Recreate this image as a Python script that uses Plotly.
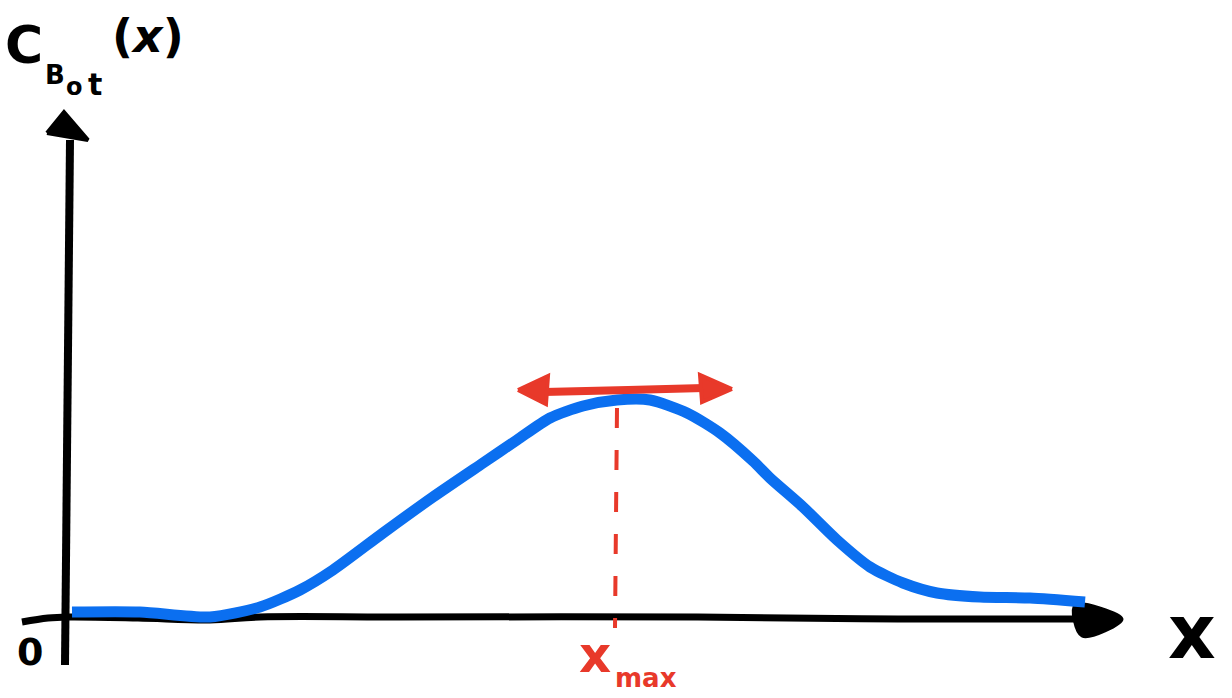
import plotly.graph_objects as go

# ---- data (x position along axis, concentration C_Bot(x)) ----
pos_x = [4, 72, 142, 192, 232, 265, 315, 365, 415, 449, 482, 515, 549, 582,
         619, 652, 685, 702, 735, 769, 802, 835, 869, 912, 962, 1017]
conc_y = [2, 2, -3, 7, 24, 44, 81, 117, 151, 174, 196, 208, 214, 214,
          201, 181, 153, 136, 107, 74, 47, 31, 21, 17, 16, 12]
x_max = 549
peak_level = 222

BLUE = "#0B6FF0"
RED = "#E8392A"
BLACK = "#000000"

fig = go.Figure()

# x axis (hand drawn baseline)
ax_x = [-46, -20, 0, 70, 142, 192, 330, 630, 830, 1007]
ax_y = [-8, -4, -3, -4, -6, -3, -3, -3, -5, -5]
fig.add_trace(go.Scatter(x=ax_x, y=ax_y, mode="lines", line=dict(color=BLACK, width=7, shape="spline"),
                         hoverinfo="skip", showlegend=False))
# x-axis arrowhead
fig.add_trace(go.Scatter(x=[1007, 1054, 1014, 1007], y=[9, -5, -22, 9], mode="lines", fill="toself",
                         fillcolor=BLACK, line=dict(color=BLACK, width=3, shape="spline"),
                         hoverinfo="skip", showlegend=False))
# y axis
fig.add_trace(go.Scatter(x=[-3, -1, 2], y=[-51, 200, 474], mode="lines", line=dict(color=BLACK, width=8),
                         hoverinfo="skip", showlegend=False))
# y-axis arrowhead
fig.add_trace(go.Scatter(x=[-21, -4, 20, -21], y=[481, 502, 474, 481], mode="lines", fill="toself",
                         fillcolor=BLACK, line=dict(color=BLACK, width=4),
                         hoverinfo="skip", showlegend=False))

# blue curve
fig.add_trace(go.Scatter(x=pos_x, y=conc_y, mode="lines",
                         line=dict(color=BLUE, width=11, shape="spline", smoothing=0.7),
                         hoverinfo="skip", showlegend=False))

# red dashed line at x_max
fig.add_trace(go.Scatter(x=[x_max, x_max - 2], y=[206, -14], mode="lines",
                         line=dict(color=RED, width=4, dash="20px,22px"),
                         hoverinfo="skip", showlegend=False))
# red double arrow
fig.add_trace(go.Scatter(x=[476, 560, 636], y=[peak_level, peak_level + 2, peak_level + 4], mode="lines",
                         line=dict(color=RED, width=8, shape="spline"), hoverinfo="skip", showlegend=False))
fig.add_trace(go.Scatter(x=[450, 480, 478, 450], y=[224, 238, 210, 224], mode="lines", fill="toself",
                         fillcolor=RED, line=dict(color=RED, width=4), hoverinfo="skip", showlegend=False))
fig.add_trace(go.Scatter(x=[664, 632, 634, 664], y=[225, 239, 212, 225], mode="lines", fill="toself",
                         fillcolor=RED, line=dict(color=RED, width=4), hoverinfo="skip", showlegend=False))

FONT = "DejaVu Sans"
ann = [
    dict(x=-44, y=569, text="<b>C</b>", size=52, color=BLACK),
    dict(x=-13, y=539, text="<b>B</b>", size=26, color=BLACK),
    dict(x=6, y=527, text="<b>o</b>", size=24, color=BLACK),
    dict(x=27, y=530, text="<b>t</b>", size=30, color=BLACK),
    dict(x=80, y=578, text="<b>(<i>x</i>)</b>", size=46, color=BLACK),
    dict(x=-38, y=-38, text="<b>0</b>", size=38, color=BLACK),
    dict(x=1124, y=-18, text="<b>x</b>", size=74, color=BLACK),
    dict(x=527, y=-41, text="<b>x</b>", size=50, color=RED),
    dict(x=578, y=-64, text="<b>max</b>", size=26, color=RED),
]
for a in ann:
    fig.add_annotation(x=a["x"], y=a["y"], text=a["text"], showarrow=False,
                       font=dict(family=FONT, size=a["size"], color=a["color"]),
                       xanchor="center", yanchor="middle")

fig.update_layout(
    width=1232, height=698, margin=dict(l=0, r=0, t=0, b=0),
    paper_bgcolor="white", plot_bgcolor="white",
    xaxis=dict(range=[-68, 1164], visible=False, fixedrange=True),
    yaxis=dict(range=[-84, 614], visible=False, fixedrange=True),
    showlegend=False,
)
fig.write_html("out.html", config={"displayModeBar": False},
               post_script="document.body.style.margin='0';document.body.style.overflow='hidden';")
